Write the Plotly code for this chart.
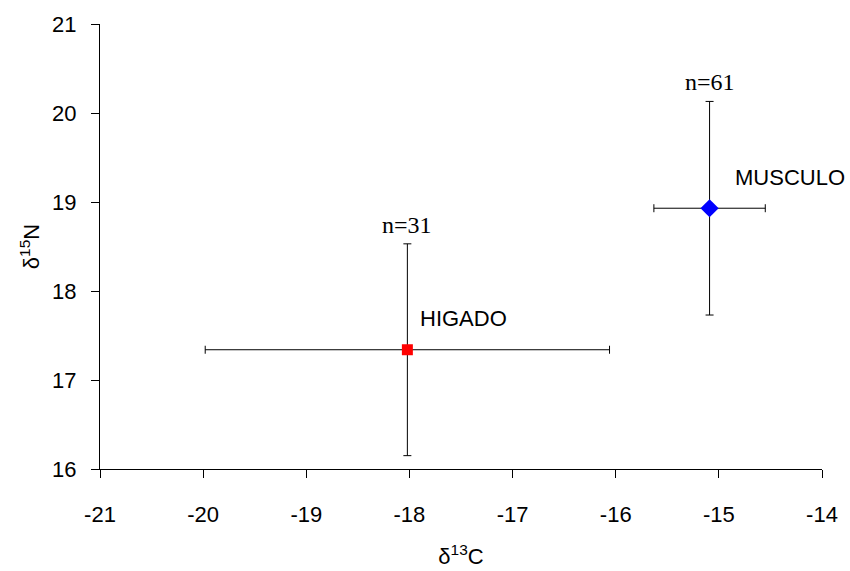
import plotly.graph_objects as go

tissues = ["HIGADO", "MUSCULO"]
n_labels = ["n=31", "n=61"]
d13C = [-18.02, -15.09]
d13C_sd = [1.96, 0.54]
d15N = [17.34, 18.93]
d15N_sd = [1.19, 1.20]

colors = ["#ff0000", "#0000ff"]
symbols = ["square", "diamond"]
marker_sizes = [11, 14]
label_offsets = [(11, 31), (23, 31)]  # pixel offsets of tissue labels

x_ticks = [-21, -20, -19, -18, -17, -16, -15, -14]
y_ticks = [16, 17, 18, 19, 20, 21]

SANS = "Liberation Sans, Arial, sans-serif"
SERIF = "Liberation Serif, Times New Roman, serif"

fig = go.Figure()
for i in range(len(tissues)):
    fig.add_trace(go.Scatter(
        x=[d13C[i]], y=[d15N[i]], mode="markers",
        marker=dict(color=colors[i], symbol=symbols[i], size=marker_sizes[i],
                    line=dict(width=0)),
        error_x=dict(type="data", array=[d13C_sd[i]], color="black", thickness=1, width=4),
        error_y=dict(type="data", array=[d15N_sd[i]], color="black", thickness=1, width=4),
        showlegend=False,
    ))
    fig.add_annotation(x=d13C[i], y=d15N[i] + d15N_sd[i], text=n_labels[i],
                       showarrow=False, yanchor="bottom", yshift=4,
                       font=dict(family=SERIF, size=24, color="black"))
    fig.add_annotation(x=d13C[i], y=d15N[i], text=tissues[i],
                       showarrow=False, xanchor="left", yanchor="middle",
                       xshift=label_offsets[i][0], yshift=label_offsets[i][1],
                       font=dict(family=SANS, size=22, color="black"))

fig.update_layout(
    width=850, height=571,
    margin=dict(l=100, r=28, t=24, b=102),
    plot_bgcolor="white", paper_bgcolor="white",
    font=dict(family=SANS, size=22, color="black"),
    xaxis=dict(range=[-21, -14], tickvals=x_ticks, ticktext=[str(v) for v in x_ticks],
               showgrid=False, zeroline=False, showline=True, linecolor="black", linewidth=1,
               ticks="outside", ticklen=8, tickcolor="black", ticklabelstandoff=18,
               tickfont=dict(size=22), automargin=False,
               title=dict(text="δ<sup>13</sup>C", standoff=22, font=dict(size=22))),
    yaxis=dict(range=[16, 21], tickvals=y_ticks, ticktext=[str(v) for v in y_ticks],
               showgrid=False, zeroline=False, showline=True, linecolor="black", linewidth=1,
               ticks="outside", ticklen=8, tickcolor="black", ticklabelstandoff=10,
               tickfont=dict(size=22), automargin=False,
               title=dict(text="δ<sup>15</sup>N", standoff=6, font=dict(size=22))),
)

fig.write_html("out.html")
